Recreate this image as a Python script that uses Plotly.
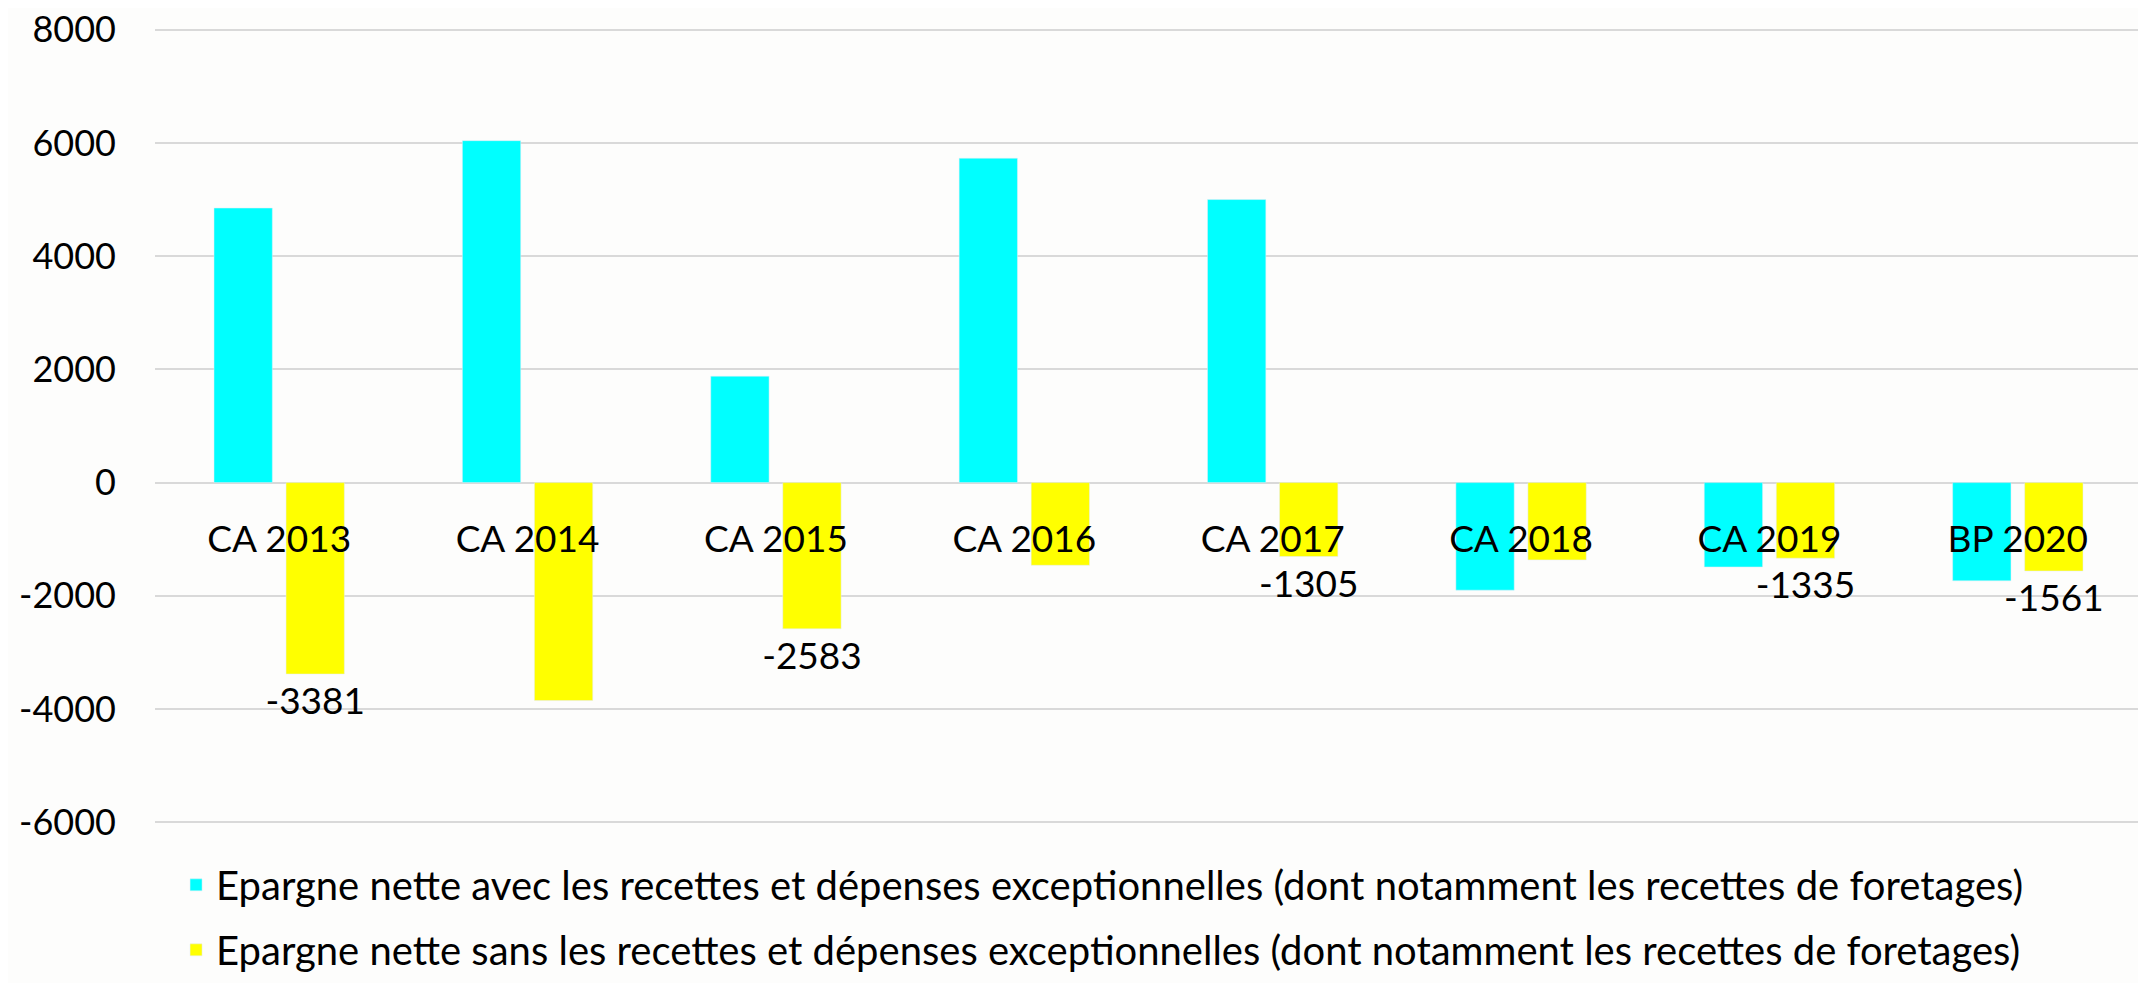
import plotly.graph_objects as go

# ---- data ------------------------------------------------------------------
CATEGORIES = ["CA 2013", "CA 2014", "CA 2015", "CA 2016", "CA 2017", "CA 2018", "CA 2019", "BP 2020"]
AVEC = [4850, 6040, 1880, 5730, 5000, -1900, -1490, -1735]
SANS = [-3381, -3850, -2583, -1460, -1305, -1365, -1335, -1561]
SANS_LABELS = ["-3381", "", "-2583", "", "-1305", "", "-1335", "-1561"]

Y_TICKS = [-6000, -4000, -2000, 0, 2000, 4000, 6000, 8000]
Y_TICKTEXT = ["-6000", "-4000", "-2000", "0", "2000", "4000", "6000", "8000"]

NAME_AVEC = "Epargne nette avec les recettes et dépenses exceptionnelles (dont notamment les recettes de foretages)"
NAME_SANS = "Epargne nette sans les recettes et dépenses exceptionnelles (dont notamment les recettes de foretages)"

# a hair wider than -6000..8000 so plotly keeps the end gridlines
Y_RANGE = [-6030, 8030]

CYAN = "#00FFFF"
YELLOW = "#FFFF00"
GRID = "#D9D9D9"
BG = "#FDFDFC"
FONT = "Lato, 'Open Sans', sans-serif"
FS = 37

fig = go.Figure()
fig.add_trace(go.Bar(x=CATEGORIES, y=AVEC, name=NAME_AVEC, marker_color=CYAN,
                     legendgroup="a"))
fig.add_trace(go.Bar(x=CATEGORIES, y=SANS, name=NAME_SANS, marker_color=YELLOW,
                     text=SANS_LABELS, textposition="outside", constraintext="none",
                     cliponaxis=False,
                     textfont=dict(color="black", size=FS, family=FONT),
                     legendgroup="b"))

# x axis (category labels) sits on the zero line, like the source chart
zero_pos = (0 - Y_RANGE[0]) / (Y_RANGE[1] - Y_RANGE[0])

# page body has an 8px margin, so the figure is 8px smaller than the window
fig.update_layout(
    width=2138, height=975,
    paper_bgcolor=BG, plot_bgcolor=BG,
    font=dict(family=FONT, color="black", size=FS),
    margin=dict(l=147, r=4, t=20, b=159),
    barmode="group", bargap=0.42, bargroupgap=0.19,
    showlegend=True,
    # paper x + container y: only reserves bottom space (already in the margin)
    legend=dict(xref="paper", yref="container", x=0.0106, y=0.134,
                xanchor="left", yanchor="top", traceorder="grouped",
                tracegroupgap=10, font=dict(size=40, color="black", family=FONT),
                bgcolor="rgba(0,0,0,0)"),
    xaxis=dict(domain=[0, 1], anchor="free", position=zero_pos, automargin=False,
               showline=False, showgrid=False, ticks="", tickangle=0,
               ticklabelstandoff=31, tickfont=dict(size=FS, color="black")),
    yaxis=dict(range=Y_RANGE, tickvals=Y_TICKS, ticktext=Y_TICKTEXT, automargin=False,
               showgrid=True, gridcolor=GRID, gridwidth=2,
               zeroline=False, showline=False, ticklabelstandoff=38,
               ticklabeloverflow="allow", tickfont=dict(size=36, color="black")),
)

fig.write_html("out.html")
